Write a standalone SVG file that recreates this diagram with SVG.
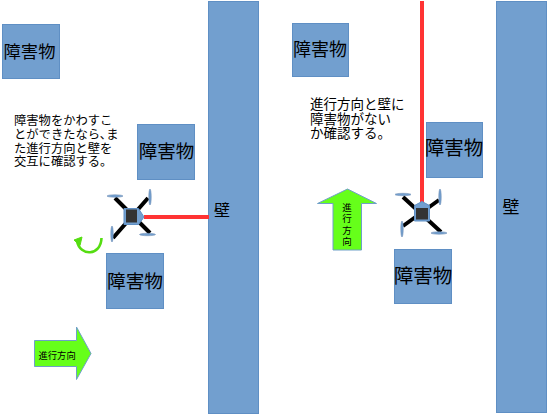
<svg xmlns="http://www.w3.org/2000/svg" width="548" height="414" viewBox="0 0 548 414">
<style>
text{font-family:"Liberation Sans","Noto Sans CJK JP",sans-serif;fill:#000}
.b{fill:#729fcf;stroke:#5f8fc4;stroke-width:1}
.ob{text-anchor:middle}
.t{font-size:12.300px}
.u{font-size:13.500px}
.g{fill:#66ff1a;stroke:#6f9fc8;stroke-width:1}
.red{stroke:#ff3333;stroke-width:4;fill:none}
.arm{stroke:#000;stroke-width:4;fill:none}
.prop{fill:#729fcf;stroke:#6f8fb5;stroke-width:.6}
</style>
<rect width="548" height="414" fill="#fff"/>
<g id="wall1"><rect class="b" x="208.500" y="1.500" width="50" height="412"/><text x="222" y="216" class="ob" style="font-size:16px">壁</text></g>
<g id="wall2"><rect class="b" x="496.500" y="1.500" width="50" height="411"/><text x="511" y="213" class="ob" style="font-size:17px">壁</text></g>
<g id="obs1"><rect class="b" x="2.500" y="24.500" width="57" height="54"/><text x="29.500" y="58" class="ob" style="font-size:17.300px">障害物</text></g>
<g id="obs2"><rect class="b" x="137.500" y="124.500" width="57" height="55"/><text x="166.500" y="158" class="ob" style="font-size:18.500px">障害物</text></g>
<g id="obs3"><rect class="b" x="106.500" y="253.500" width="57" height="55"/><text x="135" y="288" class="ob" style="font-size:18.700px">障害物</text></g>
<g id="obs4"><rect class="b" x="292.500" y="23.500" width="56" height="53"/><text x="320" y="56" class="ob" style="font-size:18px">障害物</text></g>
<g id="obs5"><rect class="b" x="426.500" y="122.500" width="56" height="55"/><text x="454" y="155" class="ob" style="font-size:19.500px">障害物</text></g>
<g id="obs6"><rect class="b" x="394.500" y="249.500" width="57" height="54"/><text x="423" y="283" class="ob" style="font-size:19.500px">障害物</text></g>
<g id="connectors">
<path class="red" d="M144 217H209"/>
<path class="red" d="M422 1V205"/>
<path d="M101.500 238C101 256 80 257 77 241" fill="none" stroke="#55dd11" stroke-width="2.600"/>
<path d="M74 240L82 237L80 245.500Z" fill="#55dd11" stroke="#55dd11"/>
</g>
<g id="note1">
<text x="14" y="124.500" class="t">障害物をかわすこ</text>
<text x="14" y="138.500" class="t">とができたなら､ま</text>
<text x="14" y="152.500" class="t">た進行方向と壁を</text>
<text x="14" y="166" class="t">交互に確認する。</text>
</g>
<g id="note2">
<text x="310" y="109" class="u">進行方向と壁に</text>
<text x="310" y="123.500" class="u">障害物がない</text>
<text x="310" y="138" class="u">か確認する。</text>
</g>
<g id="arrow-right"><path class="g" d="M34.500 340.500H76.500V327L91 353.500L76.500 379.500V366.500H34.500Z"/><text x="38.500" y="358.500" style="font-size:9.300px">進行方向</text></g>
<g id="arrow-up"><path class="g" d="M333 250V203.500H317.500L347.500 189L376.500 203.500H361.500V250Z"/>
<text x="347" y="211" text-anchor="middle" style="font-size:9.500px">進</text>
<text x="347" y="222" text-anchor="middle" style="font-size:9.500px">行</text>
<text x="347" y="234" text-anchor="middle" style="font-size:9.500px">方</text>
<text x="347" y="244.500" text-anchor="middle" style="font-size:9.500px">向</text></g>
<g id="drone1">
<path class="arm" d="M115 198L150 233M148 198L113 238"/>
<ellipse class="prop" cx="115" cy="196" rx="8" ry="1.200"/>
<ellipse class="prop" cx="150" cy="197" rx="1.200" ry="8"/>
<ellipse class="prop" cx="112" cy="234" rx="1.200" ry="8"/>
<ellipse class="prop" cx="147.500" cy="234.500" rx="8" ry="1.200"/>
<path d="M124 208.500H138.500L144 217L138.500 224.500H124Z" fill="#729fcf" stroke="#5f8fc4"/>
<rect x="126" y="209.500" width="11" height="13" fill="#333"/>
</g>
<g id="drone2">
<path class="arm" d="M403 197L441 232M439 200L403 226"/>
<ellipse class="prop" cx="403" cy="194.500" rx="8" ry="1.200"/>
<ellipse class="prop" cx="440" cy="197" rx="1.200" ry="8"/>
<ellipse class="prop" cx="402" cy="229" rx="1.200" ry="8"/>
<ellipse class="prop" cx="439" cy="233" rx="8" ry="1.200"/>
<path d="M414.500 205.500L422 201.500L429.500 205.500V221H414.500Z" fill="#729fcf" stroke="#5f8fc4"/>
<rect x="416" y="208" width="12" height="11.500" fill="#333"/>
</g>
</svg>
